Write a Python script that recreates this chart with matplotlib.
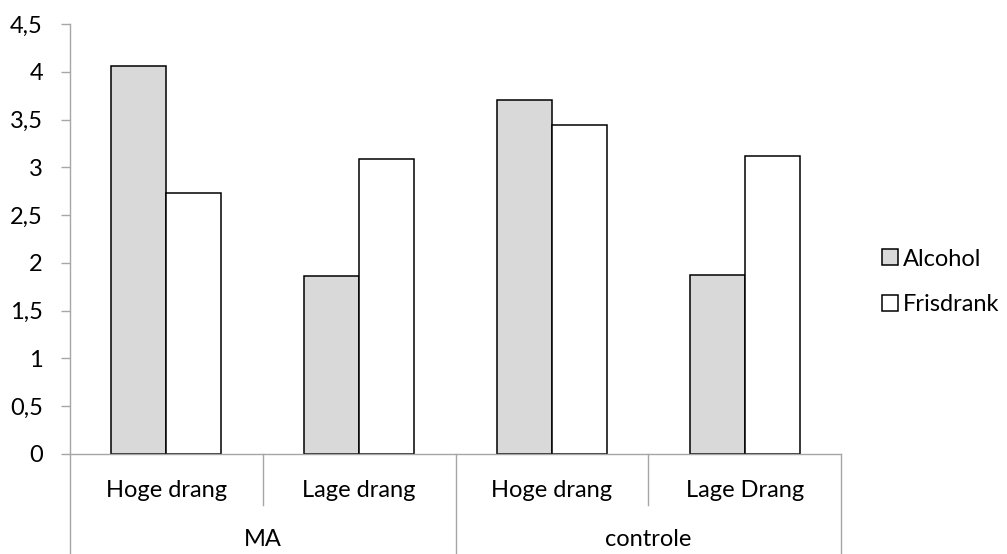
import matplotlib
matplotlib.use("Agg")
import matplotlib.pyplot as plt
from matplotlib.patches import Patch

plt.rcParams['font.family'] = ['Lato', 'DejaVu Sans']

groups = ['MA', 'controle']
subgroups = ['Hoge drang', 'Lage drang', 'Hoge drang', 'Lage Drang']
alcohol = [4.06, 1.86, 3.70, 1.87]
frisdrank = [2.73, 3.09, 3.44, 3.12]
yticks = [0, 0.5, 1, 1.5, 2, 2.5, 3, 3.5, 4, 4.5]
ytick_labels = ['0', '0,5', '1', '1,5', '2', '2,5', '3', '3,5', '4', '4,5']

axis_grey = '#A6A6A6'
fs = 17

fig = plt.figure(figsize=(10.07, 5.54), dpi=100)
ax = fig.add_axes([70/1007, 100/554, 771/1007, 430/554])

w = 0.2855
x = [i + 0.5 for i in range(len(subgroups))]
ax.bar([v - w/2 for v in x], alcohol, w, color='#D9D9D9', edgecolor='black', linewidth=1.1, label='Alcohol')
ax.bar([v + w/2 for v in x], frisdrank, w, color='white', edgecolor='black', linewidth=1.1, label='Frisdrank')

ax.set_xlim(0, len(subgroups))
ax.set_ylim(0, 4.5)
ax.set_yticks(yticks)
ax.set_yticklabels(ytick_labels, fontsize=fs)
ax.tick_params(axis='y', length=6.5, width=1, color=axis_grey, pad=13)
ax.set_xticks([])
for s in ['top', 'right']:
    ax.spines[s].set_visible(False)
for s in ['left', 'bottom']:
    ax.spines[s].set_color(axis_grey)
    ax.spines[s].set_linewidth(1)

# multi-level category axis
tr = ax.get_xaxis_transform()
y_mid = -0.1186
y_bot = -0.24
for b in range(len(subgroups) + 1):
    outer = b % 2 == 0
    ax.plot([b, b], [0, y_bot if outer else y_mid], transform=tr, color=axis_grey,
            lw=1, clip_on=False)
for i, lab in enumerate(subgroups):
    ax.text(i + 0.5, -0.084, lab, transform=tr, ha='center', va='center', fontsize=fs)
for j, g in enumerate(groups):
    ax.text(2 * j + 1, -0.2, g, transform=tr, ha='center', va='center', fontsize=fs)

handles = [Patch(facecolor='#D9D9D9', edgecolor='black', linewidth=1.1, label='Alcohol'),
           Patch(facecolor='white', edgecolor='black', linewidth=1.1, label='Frisdrank')]
fig.legend(handles=handles, loc='center left', bbox_to_anchor=(870/1007, 272/554),
           frameon=False, fontsize=fs, handlelength=0.68, handleheight=0.68,
           handletextpad=0.2, labelspacing=1.05, borderpad=0)

fig.savefig('out.png', dpi=100)
